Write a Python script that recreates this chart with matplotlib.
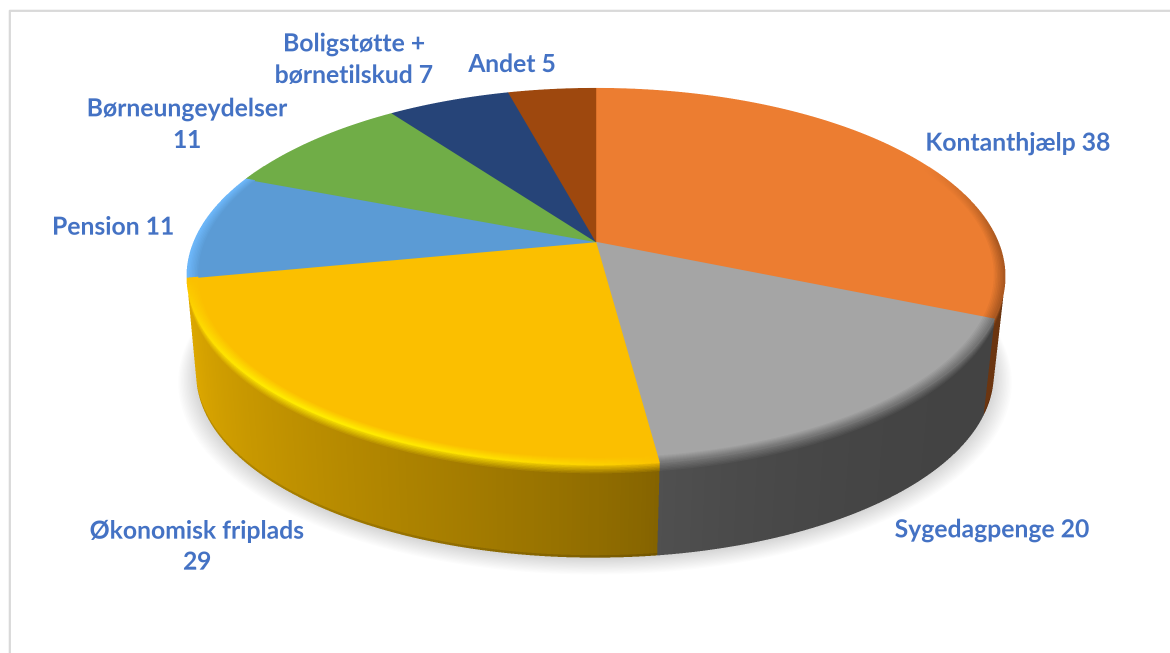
import matplotlib
matplotlib.use("Agg")
import matplotlib.pyplot as plt
from matplotlib.collections import PolyCollection
from matplotlib.colors import to_rgb
import numpy as np

# data
labels = ["Kontanthjælp 38", "Sygedagpenge 20", "Økonomisk friplads\n29", "Pension 11",
          "Børneungeydelser\n11", "Boligstøtte +\nbørnetilskud 7", "Andet 5"]
values = [38, 20, 29, 11, 11, 7, 5]
colors = ["#EC7D31", "#A5A5A5", "#FBBF00", "#5B9BD5", "#70AD47", "#264478", "#9E480E"]
# wall colour at start and end of each slice
wall_start = ["#6b3510", "#434343", "#846300", "#5B9BD5", "#70AD47", "#264478", "#9E480E"]
wall_end = ["#6b3510", "#505050", "#e2ac00", "#5B9BD5", "#70AD47", "#264478", "#9E480E"]
# brightest colour on the rounded rim
rim_glow = ["#EC7D31", "#A5A5A5", "#FFEA00", "#6cb6f8", "#70AD47", "#264478", "#9E480E"]
label_x = [1018, 992, 197, 113, 187, 354, 512]
label_y = [143.5, 530.5, 547, 227.5, 125, 60, 64.5]

# shape of the pie in pixels
CX, CY = 596, 242
R, A, K = 402, 182, 0.183
DEPTH, SHRINK, DRIFT = 98, 0.025, 1
SS = 3  # drawn this many times bigger, then averaged down


def project(deg, r=1.0, z=0.0):
    t = np.radians(deg)
    u, v = r * np.sin(t), r * np.cos(t)
    s = 1 - SHRINK * z
    d = 1 + K * v
    return CX - DRIFT * z + s * R * u / d, CY + DEPTH * z - s * A * v / d


def mix(a, b, f):
    return tuple(np.array(a) * (1 - f) + np.array(b) * f)


def quad(a0, a1, r0, r1, z0, z1):
    p = [project(a0, r0, z0), project(a1, r0, z0), project(a1, r1, z1), project(a0, r1, z1)]
    return [(float(x), float(y)) for x, y in p]


def rim_colour(i, a0, v, wc, p):
    # p runs 0..1 from the flat top over the rounded edge down to the wall
    face = to_rgb(colors[i])
    w = float(np.clip((0.45 - v) / 0.45, 0, 1))
    if i == 2:
        glow = np.sin(np.radians(np.clip((a0 - 172) * 180 / 86, 0, 180))) ** 0.7
        peak = mix(face, to_rgb(rim_glow[i]), glow)
        if p < 0.5:
            return mix(face, peak, p / 0.5)
        return mix(peak, wc, (p - 0.5) / 0.5)
    if i == 3:
        return mix(face, to_rgb(rim_glow[i]), min(p * 2, 1))
    return mix(face, wc, p * w)


fig = plt.figure(figsize=(11.7, 6.53), dpi=100 * SS)
ax = fig.add_axes([0, 0, 1, 1])
ax.set_xlim(0, 1170)
ax.set_ylim(653, 0)
ax.axis("off")

# frame
ax.plot([9.5, 9.5, 1170], [653, 10.5, 10.5], color="#D9D9D9", lw=1.6, solid_capstyle="butt")

# soft shadow
ring = np.linspace(0, 360, 361)
for i in range(14):
    e = 1.045 - i * 0.0035
    sx, sy = project(ring, 1.0, 1.0)
    mx, my = CX - DRIFT, CY + DEPTH + 35
    ax.fill(mx + (sx - mx) * e, my + (sy - my) * e + 9 - i * 0.6, color="k", alpha=0.011, lw=0)

edges = np.cumsum([0] + values) / sum(values) * 360

segments = []
for i in range(len(values)):
    a = np.append(np.arange(edges[i], edges[i + 1], 0.5), edges[i + 1])
    for a0, a1 in zip(a[:-1], a[1:]):
        segments.append((np.cos(np.radians((a0 + a1) / 2)), i, a0, a1))
segments.sort(key=lambda s: -s[0])


def wall_colour(i, a0):
    f = (a0 - edges[i]) / (edges[i + 1] - edges[i])
    return mix(to_rgb(wall_start[i]), to_rgb(wall_end[i]), f ** (3 if i == 1 else 0.8))


# side wall, the upper part of it belongs to the rounded edge
N_RIM = 7
wall_z = np.r_[np.linspace(0, 0.11, N_RIM + 1), 0.4, 0.7, 0.98, 1.0]
polys, cols = [], []
for v, i, a0, a1 in segments:
    wc = wall_colour(i, a0)
    for j in range(len(wall_z) - 1):
        polys.append(quad(a0, a1 + 0.2, 1, 1, wall_z[j], wall_z[j + 1] + 0.003))
        if j < N_RIM:
            cols.append(rim_colour(i, a0, v, wc, 0.5 + 0.5 * (j + 1) / N_RIM))
        elif j == len(wall_z) - 2 and i != 1:
            cols.append(tuple(np.array(wc) * 0.87))
        else:
            cols.append(wc)
ax.add_collection(PolyCollection(polys, facecolors=cols, edgecolors="none", antialiased=False))

# top of the pie
for i in range(len(values)):
    a = np.linspace(edges[i], edges[i + 1], 200)
    x, y = project(a)
    ax.fill(np.r_[CX, x], np.r_[CY, y], color=colors[i], lw=0.3)

# rounded edge on the top face
rim_r = np.linspace(0.974, 1.0, N_RIM + 1)
polys, cols = [], []
for v, i, a0, a1 in segments:
    if v > 0.45 and i != 3:
        continue
    wc = wall_colour(i, a0)
    for j in range(N_RIM):
        polys.append(quad(a0, a1 + 0.2, rim_r[j], rim_r[j + 1] + 0.001, 0, 0))
        cols.append(rim_colour(i, a0, v, wc, 0.5 * (j + 1) / N_RIM))
ax.add_collection(PolyCollection(polys, facecolors=cols, edgecolors="none", antialiased=False))

for name, x, y in zip(labels, label_x, label_y):
    ax.text(x, y, name, ha="center", va="center", family="Lato", weight="bold",
            fontsize=17.8, color="#4472C4", linespacing=1.42)

# average down, the reference is soft as well
fig.canvas.draw()
img = np.asarray(fig.canvas.buffer_rgba())[:, :, :3].astype(float)
h, w = img.shape[0] // SS, img.shape[1] // SS
img = img[:h * SS, :w * SS].reshape(h, SS, w, SS, 3).mean(axis=(1, 3)) / 255
plt.imsave("out.png", img)
